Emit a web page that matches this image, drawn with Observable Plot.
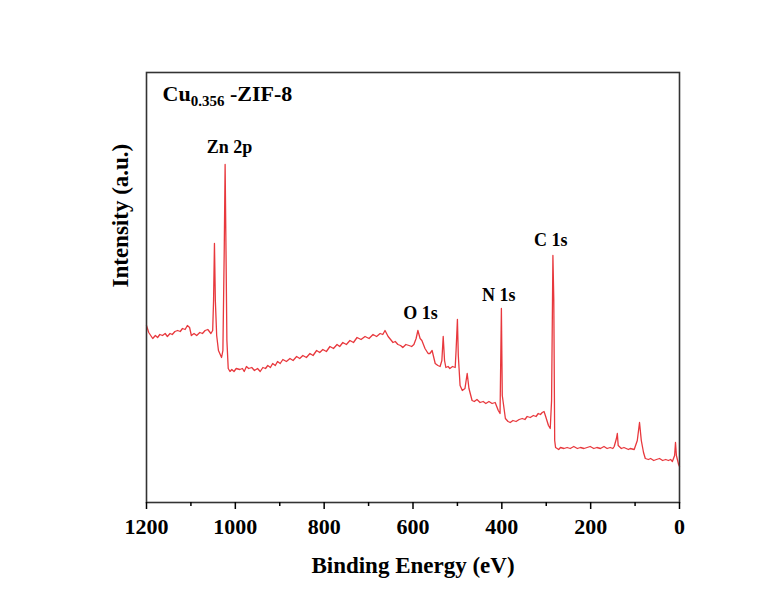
<!DOCTYPE html>
<html><head><meta charset="utf-8">
<script src="https://cdn.jsdelivr.net/npm/d3@7"></script>
<script src="https://cdn.jsdelivr.net/npm/@observablehq/plot@0.6"></script>
<style>
body{margin:0;background:#fff;}
svg text{font-weight:bold;}
</style>
</head><body><div id="chart"></div>
<script>
// Binding energy (eV) and intensity (a.u.)
const energy = [
  1200,1195,1186,1180,1175,1170,1164,1158,1153,1147,
  1142,1136,1130,1124,1119,1113,1108,1103,1099,1093,
  1087,1080,1074,1068,1062,1055,1051,1049,1047,1045,
  1042,1038,1031,1028,1025,1023,1021,1019,1016,1012,
  1008,1003,998,990,984,980,975,970,963,957,
  950,944,938,932,927,921,916,910,905,899,
  893,885,877,870,862,855,848,840,832,825,
  817,810,803,795,787,779,771,765,758,750,
  742,734,726,717,708,699,690,682,674,668,
  663,656,645,640,634,628,623,616,609,603,
  598,593,589,584,580,573,566,562,557,550,
  544,539,535,532,529,526,521,517,511,505,
  503,500,498,494,489,483,478,474,467,462,
  456,449,442,436,429,422,415,408,404,401,
  399,392,386,381,375,368,361,354,348,343,
  336,329,323,318,313,309,305,302,295,291,
  288,285,283,281,279,272,268,260,253,246,
  238,230,223,215,208,201,193,186,178,170,
  163,156,150,147,142,140,138,131,125,120,
  115,111,102,95,90,86,81,77,70,65,
  58,52,45,38,31,25,20,16,11,9,
  7,2,0];
const intensity = [
  177,170,164,167,165,168,167,169,166,169,
  168,171,172,171,174,173,177,175,167,169,
  167,170,169,172,173,169,172,202,259,202,
  167,152,145,152,252,338,252,162,134,131,
  133,131,134,133,134,131,136,134,135,132,
  134,131,135,134,137,135,139,137,141,139,
  143,141,144,142,146,144,147,145,149,147,
  152,150,153,151,156,154,158,156,160,158,
  162,160,165,163,166,164,168,166,169,168,
  172,166,160,161,158,157,155,158,157,156,
  158,164,172,164,162,154,149,149,152,139,
  137,136,142,166,142,135,136,134,136,135,
  152,183,147,117,112,114,129,114,102,101,
  103,100,101,99,101,99,100,92,89,194,
  107,84,81,80,82,81,83,84,83,86,
  85,87,86,89,88,90,91,87,77,74,
  102,247,202,62,55,53,55,54,55,54,
  56,54,55,54,55,56,54,55,54,56,
  54,55,54,56,64,69,57,54,55,54,
  53,54,53,62,80,62,50,44,43,44,
  42,43,44,42,43,42,43,41,47,60,
  47,38,36];

const peakNames = ["Zn 2p","O 1s","N 1s","C 1s"];
const peakEnergy = [1013,583,407,290];
const peakIntensity = [350,184,202,257];

const majorTicks = [1200,1000,800,600,400,200,0];
const minorTicks = [1100,900,700,500,300,100];

const titleMain = "Cu", titleSub = "0.356", titleRest = " -ZIF-8";
const xLabel = "Binding Energy (eV)";
const yLabel = "Intensity (a.u.)";

const data = energy.map((e,i)=>({e, v:intensity[i]}));
const peaks = peakNames.map((n,i)=>({n, e:peakEnergy[i], v:peakIntensity[i]}));
const font = "'Liberation Serif','Times New Roman',serif";

const chart = Plot.plot({
  width:777, height:594,
  marginLeft:146, marginRight:98, marginTop:72, marginBottom:92,
  style:{fontFamily:font, background:"#fff", color:"#000"},
  x:{domain:[1200,0]},
  y:{domain:[0,430], axis:null},
  marks:[
    Plot.line(data,{x:"e", y:"v", stroke:"#e8383d", strokeWidth:1.3}),
    Plot.frame({stroke:"#333", strokeWidth:1.6}),
    Plot.axisX({ticks:majorTicks, tickSize:7, tickPadding:9, fontSize:22, fontWeight:"bold", label:null, tickFormat:d=>String(d), strokeWidth:1.5}),
    Plot.axisX({ticks:minorTicks, tickSize:4, label:null, tickFormat:()=>"", strokeWidth:1.5}),
    Plot.text([xLabel],{frameAnchor:"bottom", dy:70, lineAnchor:"bottom", fontSize:23, fontWeight:"bold"}),
    Plot.text([yLabel],{frameAnchor:"left", dx:-26, rotate:-90, fontSize:23, fontWeight:"bold"}),
    Plot.text([titleMain+titleSub+titleRest],{frameAnchor:"top-left", dx:16, dy:28, lineAnchor:"bottom", textAnchor:"start", fontSize:22, fontWeight:"bold"}),
    Plot.text(peaks,{x:"e", y:"v", text:"n", lineAnchor:"bottom", fontSize:18, fontWeight:"bold"})
  ]
});
document.getElementById("chart").appendChild(chart);

// subscript formatting for the sample title
d3.select(chart).selectAll("text").each(function(){
  const t = d3.select(this);
  if (t.text() === titleMain+titleSub+titleRest) {
    t.text(null);
    t.append("tspan").text(titleMain);
    t.append("tspan").attr("font-size",15).attr("dy",5).text(titleSub);
    t.append("tspan").attr("dy",-5).text(titleRest);
  }
});
</script>
</body></html>
